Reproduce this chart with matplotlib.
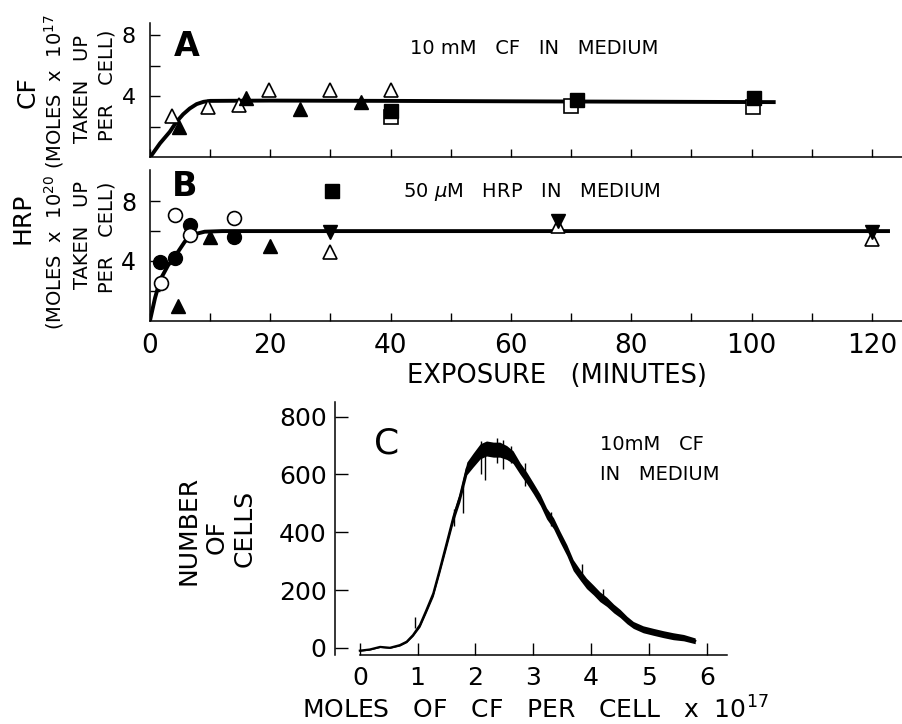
import matplotlib
matplotlib.use("Agg")
import matplotlib.pyplot as plt

plt.rcParams['font.family'] = ['DejaVu Sans']

# ---------------- data ----------------
# Panel A : CF uptake vs exposure (minutes)
a_open_tri_x = [3.6, 9.7, 14.8, 19.8, 29.9, 40.0]
a_open_tri_y = [2.7, 3.3, 3.4, 4.4, 4.4, 4.4]
a_fill_tri_x = [4.9, 16.0, 25.0, 35.0]
a_fill_tri_y = [2.0, 3.9, 3.2, 3.6]
a_open_sq_x = [40.0, 70.0, 100.3]
a_open_sq_y = [2.65, 3.35, 3.3]
a_fill_sq_x = [40.0, 70.9, 100.4]
a_fill_sq_y = [3.05, 3.75, 3.9]
a_curve_x = [0, 1.66, 3.3, 4.4, 5.5, 6.6, 7.75, 8.9, 10, 20, 40, 70, 104]
a_curve_y = [0, 0.92, 1.68, 2.33, 2.82, 3.2, 3.49, 3.64, 3.7, 3.72, 3.7, 3.66, 3.62]

# Panel B : HRP uptake vs exposure (minutes)
b_fill_circ_x = [1.7, 4.2, 6.7, 14.0]
b_fill_circ_y = [3.9, 4.2, 6.4, 5.6]
b_open_circ_x = [1.8, 4.2, 6.6, 14.0]
b_open_circ_y = [2.5, 7.1, 5.75, 6.9]
b_fill_tri_x = [4.7, 9.9, 20.0]
b_fill_tri_y = [0.95, 5.6, 5.0]
b_open_tri_x = [30.0, 67.8, 120.0]
b_open_tri_y = [4.6, 6.35, 5.45]
b_fill_inv_x = [30.0, 67.8, 120.0]
b_fill_inv_y = [5.95, 6.7, 5.95]
b_fill_sq_x = [30.2]
b_fill_sq_y = [8.7]
b_curve_x = [0, 0.83, 1.66, 3.0, 4.15, 5.8, 7.5, 9.1, 12, 123]
b_curve_y = [0, 1.5, 2.7, 3.7, 4.3, 5.3, 5.8, 5.96, 6.0, 6.0]

# Panel C : distribution of CF per cell
c_x = [0.0, 0.17, 0.35, 0.52, 0.69, 0.81, 0.92, 1.04, 1.15, 1.27,
       1.38, 1.5, 1.62, 1.73, 1.85, 1.96, 2.08, 2.19, 2.31, 2.42,
       2.54, 2.65, 2.77, 2.89, 3.0, 3.12, 3.23, 3.35, 3.46, 3.58,
       3.69, 3.81, 3.92, 4.04, 4.15, 4.27, 4.39, 4.5, 4.62, 4.73,
       4.9, 5.08, 5.25, 5.42, 5.6, 5.8]
c_y = [-10, -6, 3, 0, 9, 21, 44, 79, 130, 188,
       269, 361, 454, 523, 621, 650, 680, 690, 686, 686,
       676, 660, 621, 587, 552, 512, 465, 431, 385, 338,
       286, 252, 223, 200, 177, 159, 136, 119, 96, 79,
       64, 55, 47, 40, 35, 24]
# half thickness of the noisy band
c_hw = [2, 2, 2, 2, 3, 3, 4, 7, 8, 10,
        12, 14, 16, 18, 22, 24, 26, 26, 26, 26,
        24, 22, 20, 20, 19, 19, 19, 19, 19, 19,
        19, 18, 18, 17, 17, 16, 15, 14, 13, 12,
        12, 12, 12, 12, 11, 10]
# isolated spikes (x, low, high)
spike_x = [0.95, 1.62, 1.79, 2.10, 2.17, 2.37, 2.48, 2.62, 2.86, 3.3, 3.85, 4.2]
spike_lo = [70, 420, 465, 600, 580, 640, 620, 640, 560, 420, 230, 160]
spike_hi = [105, 480, 560, 715, 700, 725, 720, 700, 640, 470, 290, 205]

ab_xticks = list(range(0, 121, 10))
ab_xlabels = ['0', '', '20', '', '40', '', '60', '', '80', '', '100', '', '120']
ab_yticks = [2, 4, 6, 8]
ab_ylabels = ['', '4', '', '8']
c_xticks = [0, 1, 2, 3, 4, 5, 6]
c_yticks = [0, 200, 400, 600, 800]

# ---------------- figure ----------------
W, H = 902, 724
fig = plt.figure(figsize=(W / 100, H / 100), dpi=100)


def box(l, t, r, b):
    return [l / W, 1 - b / H, (r - l) / W, (b - t) / H]


LW_AX = 1.1
MS = 10


def style(ax):
    for s in ['top', 'right']:
        ax.spines[s].set_visible(False)
    for s in ['left', 'bottom']:
        ax.spines[s].set_linewidth(LW_AX)


# Panel A
axA = fig.add_axes(box(150, 23, 902, 157.4))
style(axA)
axA.set_xlim(0, 125)
axA.set_ylim(0, 8.8)
axA.plot(a_curve_x, a_curve_y, color='black', lw=2.8, zorder=2, solid_capstyle='butt')
axA.plot(a_open_tri_x, a_open_tri_y, '^', ms=MS, mfc='white', mec='black', mew=1.2, zorder=3, ls='none')
axA.plot(a_fill_tri_x, a_fill_tri_y, '^', ms=MS, color='black', zorder=3, ls='none')
axA.plot(a_open_sq_x, a_open_sq_y, 's', ms=MS, mfc='white', mec='black', mew=1.2, zorder=3, ls='none')
axA.plot(a_fill_sq_x, a_fill_sq_y, 's', ms=MS, color='black', zorder=4, ls='none')
axA.set_xticks(ab_xticks)
axA.tick_params(axis='x', direction='in', length=6, width=1, labelbottom=False)
axA.set_yticks(ab_yticks)
axA.set_yticklabels(ab_ylabels)
axA.tick_params(axis='y', direction='in', length=7, width=1, labelsize=16, pad=10)
axA.text(187 / W, 1 - 47 / H, 'A', transform=fig.transFigure, fontsize=24,
         fontweight='bold', ha='center', va='center')
axA.text(534 / W, 1 - 48 / H, '10 mM   CF   IN   MEDIUM', transform=fig.transFigure,
         fontsize=14, ha='center', va='center')

# Panel B
axB = fig.add_axes(box(150, 170, 902, 320.5))
style(axB)
axB.set_xlim(0, 125)
axB.set_ylim(0, 10.1)
axB.plot(b_curve_x, b_curve_y, color='black', lw=2.8, zorder=2, solid_capstyle='butt')
axB.plot(b_fill_circ_x, b_fill_circ_y, 'o', ms=MS, color='black', zorder=3, ls='none')
axB.plot(b_open_circ_x, b_open_circ_y, 'o', ms=MS, mfc='white', mec='black', mew=1.2, zorder=4, ls='none')
axB.plot(b_fill_tri_x, b_fill_tri_y, '^', ms=MS, color='black', zorder=3, ls='none')
axB.plot(b_open_tri_x, b_open_tri_y, '^', ms=MS, mfc='white', mec='black', mew=1.2, zorder=3, ls='none')
axB.plot(b_fill_inv_x, b_fill_inv_y, 'v', ms=MS, color='black', zorder=4, ls='none')
axB.plot(b_fill_sq_x, b_fill_sq_y, 's', ms=MS, color='black', zorder=4, ls='none')
axB.set_xticks(ab_xticks)
axB.set_xticklabels(ab_xlabels)
axB.tick_params(axis='x', direction='in', length=6, width=1, labelsize=19, pad=9)
axB.set_yticks(ab_yticks)
axB.set_yticklabels(ab_ylabels)
axB.tick_params(axis='y', direction='in', length=7, width=1, labelsize=17, pad=10)
axB.text(185 / W, 1 - 187 / H, 'B', transform=fig.transFigure, fontsize=24,
         fontweight='bold', ha='center', va='center')
axB.text(532 / W, 1 - 192 / H, '50 $\\mu$M   HRP   IN   MEDIUM', transform=fig.transFigure,
         fontsize=14, ha='center', va='center')
fig.text(557 / W, 1 - 376 / H, 'EXPOSURE   (MINUTES)', fontsize=18.5, ha='center', va='center')

# y labels for A and B
fig.text(28 / W, 1 - 92 / H, 'CF', fontsize=18, rotation=90, ha='center', va='center')
fig.text(54 / W, 1 - 92 / H, '(MOLES  x  10$^{17}$', fontsize=14, rotation=90, ha='center', va='center')
fig.text(82 / W, 1 - 89 / H, 'TAKEN   UP', fontsize=14, rotation=90, ha='center', va='center')
fig.text(107 / W, 1 - 85 / H, 'PER   CELL)', fontsize=14, rotation=90, ha='center', va='center')
fig.text(22 / W, 1 - 218 / H, 'HRP', fontsize=18, rotation=90, ha='center', va='center')
fig.text(54 / W, 1 - 252 / H, '(MOLES  x  10$^{20}$', fontsize=14, rotation=90, ha='center', va='center')
fig.text(82 / W, 1 - 235 / H, 'TAKEN   UP', fontsize=14, rotation=90, ha='center', va='center')
fig.text(107 / W, 1 - 237 / H, 'PER   CELL)', fontsize=14, rotation=90, ha='center', va='center')

# Panel C
axC = fig.add_axes(box(335, 401.7, 726.7, 655))
style(axC)
axC.set_xlim(-0.43, 6.345)
axC.set_ylim(-25, 852)
axC.spines['bottom'].set_bounds(0, 6.345)
lo = [y - h for y, h in zip(c_y, c_hw)]
hi = [y + h for y, h in zip(c_y, c_hw)]
axC.fill_between(c_x, lo, hi, color='black', lw=0)
axC.plot(c_x, c_y, color='black', lw=1.6)
axC.vlines(spike_x, spike_lo, spike_hi, color='black', lw=1.0)
axC.set_xticks(c_xticks)
axC.set_yticks(c_yticks)
axC.tick_params(axis='x', direction='in', length=9, width=1, labelsize=18, pad=8)
axC.tick_params(axis='y', direction='in', length=9, width=1, labelsize=18, pad=6)
axC.text(387 / W, 1 - 443 / H, 'C', transform=fig.transFigure, fontsize=26,
         ha='center', va='center')
axC.text(600 / W, 1 - 445 / H, '10mM   CF', transform=fig.transFigure, fontsize=14,
         ha='left', va='center')
axC.text(600 / W, 1 - 475 / H, 'IN   MEDIUM', transform=fig.transFigure, fontsize=14,
         ha='left', va='center')
fig.text(189 / W, 1 - 530 / H, 'NUMBER', fontsize=18, rotation=90, ha='center', va='center')
fig.text(217 / W, 1 - 537 / H, 'OF', fontsize=18, rotation=90, ha='center', va='center')
fig.text(245 / W, 1 - 528 / H, 'CELLS', fontsize=18, rotation=90, ha='center', va='center')
fig.text(535 / W, 1 - 710 / H, 'MOLES   OF   CF   PER   CELL   x  10$^{17}$', fontsize=18,
         ha='center', va='center')

fig.savefig('out.png', dpi=100)
